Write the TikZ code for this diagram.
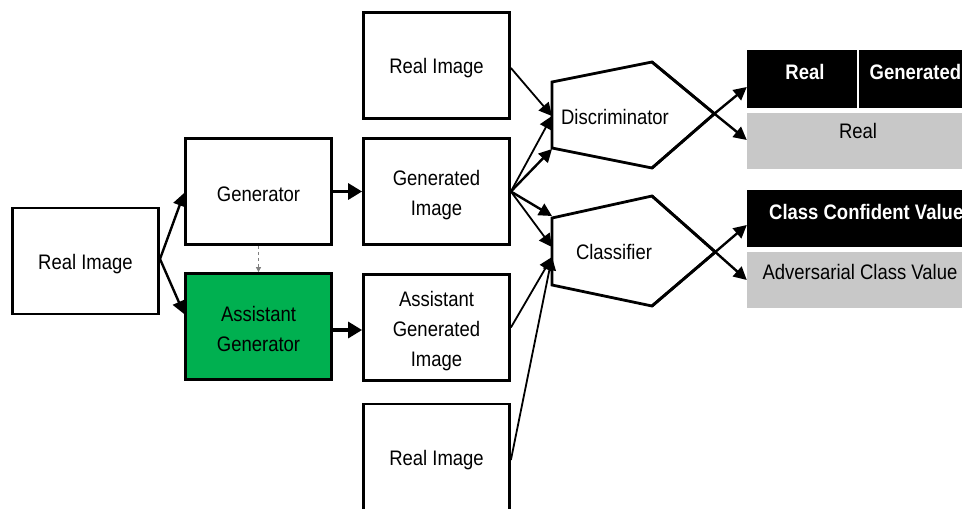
\documentclass[tikz,border=0pt]{standalone}
\usepackage{fontspec}
\setmainfont[FakeStretch=0.88]{Liberation Sans}
\usetikzlibrary{arrows.meta,calc}
\definecolor{boxgreen}{HTML}{00B050}
\definecolor{cellgray}{HTML}{C8C8C8}
\definecolor{dashgray}{HTML}{7F7F7F}
\begin{document}
\begin{tikzpicture}[x=1pt,y=-1pt,
  every node/.style={font=\fontsize{21}{30}\selectfont},
  imgbox/.style={draw, line width=2.8pt, minimum width=146pt, minimum height=106pt, align=center, inner sep=0pt},
  % text height of the box content sets how low the lines sit
  lines/.style={text height=#1},
  shapeline/.style={line width=2.8pt, line join=miter},
  arr/.style={line width=2.4pt, -{Triangle[length=13pt,width=13pt]}},
  harr/.style={line width=3.2pt, -{Triangle[length=14pt,width=16pt]}},
  thinarr/.style={line width=1.8pt, -{Triangle[length=13pt,width=13pt]}},
  darkcell/.style={fill=black, draw=none, inner sep=0pt},
  lightcell/.style={fill=cellgray, draw=none, inner sep=0pt},
  whitetxt/.style={text=white, font=\fontsize{21}{24}\bfseries\selectfont, inner sep=0pt},
  blacktxt/.style={text=black, inner sep=0pt}
]
\useasboundingbox (0,0) rectangle (962,509);
\clip (0,0) rectangle (962,509);

% image and generator boxes
\node[imgbox, lines=21pt] (src) at (85.5,261) {Real Image};
\node[imgbox, lines=21pt] (gen) at (258.5,191.5) {Generator};
\node[imgbox, lines=51pt, fill=boxgreen] (agen) at (258.5,326.5) {Assistant\\Generator};
\node[imgbox, lines=21pt] (rtop) at (436.5,65.5) {Real Image};
\node[imgbox, lines=52pt] (gimg) at (436.5,191.5) {Generated\\Image};
\node[imgbox, lines=83pt] (agimg) at (436.5,327.5) {Assistant\\Generated\\Image};
\node[imgbox, lines=21pt] (rbot) at (436.5,457) {Real Image};

% discriminator outline
\coordinate (d1) at (552,82);
\coordinate (d2) at (652,62);
\coordinate (dapex) at (714.4,113.7);
\coordinate (d4) at (652,168);
\coordinate (d5) at (552,148);
\draw[shapeline] (d1) -- (d2) -- (dapex) -- (d4) -- (d5) -- cycle;
\node[blacktxt] (disc) at (615,117) {Discriminator};

% classifier outline
\coordinate (c1) at (552,218);
\coordinate (c2) at (652,196);
\coordinate (capex) at (715.3,252);
\coordinate (c4) at (652,306);
\coordinate (c5) at (552,285);
\draw[shapeline] (c1) -- (c2) -- (capex) -- (c4) -- (c5) -- cycle;
\node[blacktxt] (cls) at (614,252) {Classifier};

% discriminator output table
\node[darkcell, minimum width=110pt, minimum height=58pt] (dreal) at (802,79) {};
\node[darkcell, minimum width=116pt, minimum height=58pt] (dgen) at (917,79) {};
\node[lightcell, minimum width=228pt, minimum height=56pt] (dout) at (861,141) {};
\node[whitetxt] (drealt) at (805,72) {Real};
\node[whitetxt, anchor=west] (dgent) at (869.5,72) {Generated};
\node[blacktxt] (doutt) at (858,131) {Real};

% classifier output table
\node[darkcell, minimum width=228pt, minimum height=57pt] (cconf) at (861,218.5) {};
\node[lightcell, minimum width=228pt, minimum height=56pt] (cadv) at (861,280) {};
\node[whitetxt, anchor=west] (cconft) at (769,212) {Class Confident Value};
\node[blacktxt] (cadvt) at (860,272) {Adversarial Class Value};

% anchor points on the outline edges
\coordinate (dinA) at (552,116);
\coordinate (dinB) at (552,149);
\coordinate (cinA) at (552,216);
\coordinate (cinB) at (552,247);
\coordinate (cinC) at (552,257);
\coordinate (srcout) at (160,259);

% connectors
\draw[arr] (srcout) -- (gen.west |- 0,193);
\draw[arr] (srcout) -- (agen.west |- 0,314);
\draw[harr] (gen.east) -- (gimg.west);
\draw[harr] (agen.east |- 0,330) -- (agimg.west |- 0,330);
\draw[dashgray, line width=0.9pt, dashed, -{Triangle[length=5pt,width=5pt]}] (gen.south) -- (agen.north);

\draw[thinarr] (rtop.east |- 0,68) -- (dinA);
\draw[thinarr] (gimg.east) -- (dinA);
\draw[arr] (gimg.east) -- (dinB);
\draw[arr] (gimg.east) -- (cinA);
\draw[thinarr] (gimg.east) -- (cinB);
\draw[thinarr] (agimg.east) -- (cinC);
\draw[thinarr] (rbot.east |- 0,460) -- (cinC);

\draw[arr] (dapex) -- (dout.west |- 0,140);
\draw[arr] (dapex) -- (dreal.west |- 0,87);
\draw[arr] (capex) -- (cadv.west |- 0,280);
\draw[arr] (capex) -- (cconf.west |- 0,225);
% outgoing lines continue the outline edges
\draw[shapeline] (d2) -- (dapex) (d4) -- (dapex);
\draw[shapeline] (c2) -- (capex) (c4) -- (capex);
\end{tikzpicture}
\end{document}
